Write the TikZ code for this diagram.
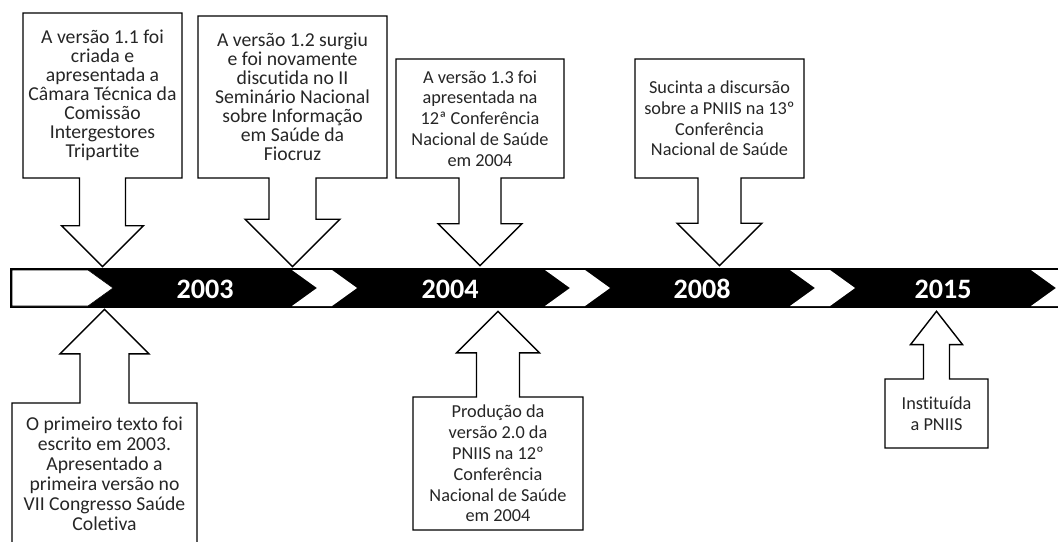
\documentclass[tikz,border=0pt]{standalone}
\usepackage{fontspec}
\setmainfont{Carlito}[Ligatures=NoCommon]
\usetikzlibrary{shapes.arrows}

\begin{document}
\begin{tikzpicture}[
        callout/.style={arrow box, draw, line width=1pt, fill=white, align=center, text=black!85, inner sep=2pt, arrow box tip angle=90},
        calldown/.style={callout, arrow box arrows={south:#1}},
        callup/.style={callout, arrow box arrows={north:#1}},
        year/.style={text=white, font=\fontsize{20}{24}\selectfont\bfseries, anchor=base},
        txtbig/.style={font=\fontsize{14}{13.5}\selectfont},
        txtsmall/.style={font=\fontsize{13}{14.8}\selectfont}
    ]
    \useasboundingbox (0,0) rectangle (26.45,13.525);
    \clip (0,0) rectangle (26.45,13.525);

    % Linha do tempo
    \fill[black] (0.25,5.825) rectangle (27,6.825);
    \filldraw[fill=white, draw=black] (0.3,6.775) -- (2.2,6.775) -- (2.825,6.325) -- (2.2,5.875) -- (0.3,5.875) -- cycle;
    \foreach \x in {7.3, 13.625, 19.75, 25.775}
        \fill[white] (\x,6.775) -- ++(1,0) -- ++(0.625,-0.45) -- ++(-0.625,-0.45) -- ++(-1,0) -- ++(0.625,0.45) -- cycle;

    \node[year] (y2003) at (5.125, 6.06) {2003};
    \node[year] (y2004) at (11.25, 6.06) {2004};
    \node[year] (y2008) at (17.55, 6.06) {2008};
    \node[year] (y2015) at (23.575, 6.06) {2015};

    % Chamadas de cima
    \node[calldown=2.2cm, txtbig, minimum width=3.975cm, minimum height=4.125cm, arrow box shaft width=1.15cm, arrow box head extend=0.45cm]
        (v11) at (2.5625, 11.1375) {A versão 1.1 foi\\criada e\\apresentada a\\Câmara Técnica da\\Comissão\\Intergestores\\Tripartite};
    \node[calldown=2.2cm, txtbig, minimum width=4.725cm, minimum height=4.05cm, arrow box shaft width=1.175cm, arrow box head extend=0.6cm]
        (v12) at (7.3125, 11.1) {A versão 1.2 surgiu\\e foi novamente\\discutida no II\\Seminário Nacional\\sobre Informação\\em Saúde da\\Fiocruz};
    \node[calldown=2.175cm, txtsmall, minimum width=4.2cm, minimum height=2.975cm, arrow box shaft width=1.05cm, arrow box head extend=0.525cm]
        (v13) at (12.0, 10.5625) {A versão 1.3 foi\\apresentada na\\12ª Conferência\\Nacional de Saúde\\em 2004};
    \node[calldown=2.175cm, txtsmall, minimum width=4.225cm, minimum height=2.975cm, arrow box shaft width=1.075cm, arrow box head extend=0.525cm]
        (conf13) at (17.9875, 10.5625) {Sucinta a discursão\\sobre a PNIIS na 13º\\Conferência\\Nacional de Saúde};

    % Chamadas de baixo
    \node[callup=2.325cm, font=\fontsize{14}{14.2}\selectfont, minimum width=4.625cm, minimum height=3.55cm, arrow box shaft width=1.225cm, arrow box head extend=0.5cm]
        (texto1) at (2.6125, 1.675) {O primeiro texto foi\\escrito em 2003.\\Apresentado a\\primeira versão no\\VII Congresso Saúde\\Coletiva};
    \node[callup=2.125cm, txtsmall, minimum width=4.25cm, minimum height=3.325cm, arrow box shaft width=1.075cm, arrow box head extend=0.5cm]
        (v20) at (12.45, 1.9375) {Produção da\\versão 2.0 da\\PNIIS na 12º\\Conferência\\Nacional de Saúde\\em 2004};
    \node[callup=1.675cm, txtsmall, minimum width=2.575cm, minimum height=1.725cm, arrow box shaft width=0.65cm, arrow box head extend=0.325cm, arrow box tip angle=76]
        (pniis) at (23.4125, 3.1875) {Instituída\\a PNIIS};

\end{tikzpicture}
\end{document}
